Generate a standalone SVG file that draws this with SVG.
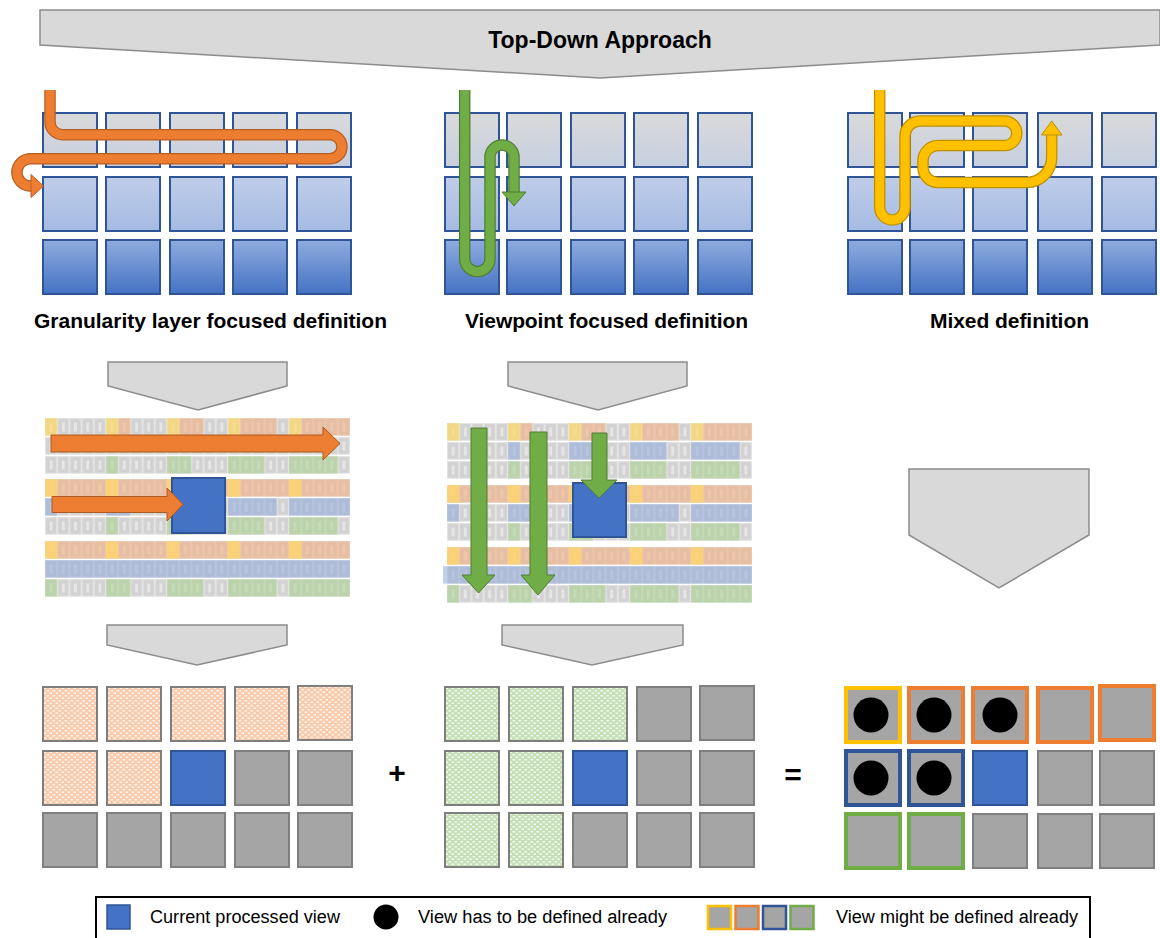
<svg xmlns="http://www.w3.org/2000/svg" width="1160" height="938" viewBox="0 0 1160 938">
  <style>
    .bold { font-family: "Liberation Sans", Arial, sans-serif; font-weight: bold; fill: #000; }
    .reg { font-family: "Liberation Sans", Arial, sans-serif; fill: #000; }
    .chev { fill: #d9d9d9; stroke: #8c8c8c; stroke-width: 1.5; }
    .tg { fill: url(#gridGrad); stroke: #2f5597; stroke-width: 2; }
    .gray { fill: #a5a5a5; stroke: #7f7f7f; stroke-width: 2; }
    .cur { fill: #4472c4; stroke: #2f5597; stroke-width: 2; }
    .org { fill: url(#dotOrange); stroke: #7f7f7f; stroke-width: 2; }
    .grn { fill: url(#dotGreen); stroke: #7f7f7f; stroke-width: 2; }
    .bY { fill: #a5a5a5; stroke: #ffc000; stroke-width: 4; }
    .bO { fill: #a5a5a5; stroke: #ed7d31; stroke-width: 4; }
    .bB { fill: #a5a5a5; stroke: #2f5597; stroke-width: 4; }
    .bG { fill: #a5a5a5; stroke: #70ad47; stroke-width: 4; }
    .ovO { fill: #f4b183; opacity: 0.6; }
    .ovY { fill: #ffd966; opacity: 0.7; }
    .ovB { fill: #8faadc; opacity: 0.55; }
    .ovG { fill: #a9d18e; opacity: 0.55; }
    .lineOut { fill: none; stroke-width: 11.5; }
    .lineIn { fill: none; stroke-width: 9; }
  </style>
  <defs>
    <linearGradient id="gridGrad" gradientUnits="userSpaceOnUse" x1="0" y1="113" x2="0" y2="294">
      <stop offset="0" stop-color="#dadada"/>
      <stop offset="0.305" stop-color="#c6cfe0"/>
      <stop offset="0.355" stop-color="#bfcde8"/>
      <stop offset="0.655" stop-color="#a5bbe4"/>
      <stop offset="0.705" stop-color="#8eabde"/>
      <stop offset="1" stop-color="#4472c4"/>
    </linearGradient>
    <pattern id="dotOrange" width="6" height="5" patternUnits="userSpaceOnUse">
      <rect width="6" height="5" fill="#f8cbad"/>
      <rect x="0.5" y="0.5" width="2.5" height="1.5" fill="#fff" opacity="0.8"/>
      <rect x="3.5" y="3" width="2.5" height="1.5" fill="#fff" opacity="0.8"/>
    </pattern>
    <pattern id="dotGreen" width="6" height="5" patternUnits="userSpaceOnUse">
      <rect width="6" height="5" fill="#c5e0b4"/>
      <rect x="0.5" y="0.5" width="2.5" height="1.5" fill="#fff" opacity="0.8"/>
      <rect x="3.5" y="3" width="2.5" height="1.5" fill="#fff" opacity="0.8"/>
    </pattern>
    <!-- one small view tile of the nested view map -->
    <pattern id="mini" width="12.2" height="19" patternUnits="userSpaceOnUse">
      <rect x="0.6" y="0.6" width="11" height="16.6" fill="#d2d2d2" stroke="#e2e2e2" stroke-width="1"/>
      <rect x="4.6" y="4.5" width="3" height="9" fill="#e6e6e6"/>
    </pattern>
    <rect id="cell" width="54" height="54"/>
  </defs>

  <!-- banner -->
  <g id="banner">
    <polygon class="chev" points="40,10 1160,10 1160,45 600,78 40,45"/>
    <text class="bold" x="600" y="48" font-size="23" text-anchor="middle">Top-Down Approach</text>
  </g>

  <!-- granularity layer focused grid -->
  <g id="grid-granularity">
    <rect class="tg" x="43" y="113" width="54" height="54"/><rect class="tg" x="106" y="113" width="54" height="54"/><rect class="tg" x="170" y="113" width="54" height="54"/><rect class="tg" x="233" y="113" width="54" height="54"/><rect class="tg" x="297" y="113" width="54" height="54"/>
    <rect class="tg" x="43" y="177" width="54" height="54"/><rect class="tg" x="106" y="177" width="54" height="54"/><rect class="tg" x="170" y="177" width="54" height="54"/><rect class="tg" x="233" y="177" width="54" height="54"/><rect class="tg" x="297" y="177" width="54" height="54"/>
    <rect class="tg" x="43" y="240" width="54" height="54"/><rect class="tg" x="106" y="240" width="54" height="54"/><rect class="tg" x="170" y="240" width="54" height="54"/><rect class="tg" x="233" y="240" width="54" height="54"/><rect class="tg" x="297" y="240" width="54" height="54"/>
    <path class="lineOut" stroke="#b85e21" d="M50,90 V122 A12.7,12.7 0 0 0 62.7,134.7 H330 A12,12 0 0 1 330,158.7 H29.4 A13.7,13.7 0 0 0 29.4,186 H32"/>
    <path class="lineIn" stroke="#ed7d31" d="M50,90 V122 A12.7,12.7 0 0 0 62.7,134.7 H330 A12,12 0 0 1 330,158.7 H29.4 A13.7,13.7 0 0 0 29.4,186 H32"/>
    <polygon points="31,174.5 43.5,186 31,197.5" fill="#ed7d31" stroke="#b85e21" stroke-width="1"/>
  </g>

  <!-- viewpoint focused grid -->
  <g id="grid-viewpoint">
    <rect class="tg" x="445" y="113" width="54" height="54"/><rect class="tg" x="507" y="113" width="54" height="54"/><rect class="tg" x="571" y="113" width="54" height="54"/><rect class="tg" x="634" y="113" width="54" height="54"/><rect class="tg" x="698" y="113" width="54" height="54"/>
    <rect class="tg" x="445" y="177" width="54" height="54"/><rect class="tg" x="507" y="177" width="54" height="54"/><rect class="tg" x="571" y="177" width="54" height="54"/><rect class="tg" x="634" y="177" width="54" height="54"/><rect class="tg" x="698" y="177" width="54" height="54"/>
    <rect class="tg" x="445" y="240" width="54" height="54"/><rect class="tg" x="507" y="240" width="54" height="54"/><rect class="tg" x="571" y="240" width="54" height="54"/><rect class="tg" x="634" y="240" width="54" height="54"/><rect class="tg" x="698" y="240" width="54" height="54"/>
    <path class="lineOut" stroke="#507e32" d="M464.7,90 V259 A12.65,12.65 0 0 0 490,259 V157 A12,12 0 0 1 514,157 V193"/>
    <path class="lineIn" stroke="#70ad47" d="M464.7,90 V259 A12.65,12.65 0 0 0 490,259 V157 A12,12 0 0 1 514,157 V193"/>
    <polygon points="502,192 526,192 514,206" fill="#70ad47" stroke="#507e32" stroke-width="1"/>
  </g>

  <!-- mixed grid -->
  <g id="grid-mixed">
    <rect class="tg" x="848" y="113" width="54" height="54"/><rect class="tg" x="910" y="113" width="54" height="54"/><rect class="tg" x="973" y="113" width="54" height="54"/><rect class="tg" x="1038" y="113" width="54" height="54"/><rect class="tg" x="1102" y="113" width="54" height="54"/>
    <rect class="tg" x="848" y="177" width="54" height="54"/><rect class="tg" x="910" y="177" width="54" height="54"/><rect class="tg" x="973" y="177" width="54" height="54"/><rect class="tg" x="1038" y="177" width="54" height="54"/><rect class="tg" x="1102" y="177" width="54" height="54"/>
    <rect class="tg" x="848" y="240" width="54" height="54"/><rect class="tg" x="910" y="240" width="54" height="54"/><rect class="tg" x="973" y="240" width="54" height="54"/><rect class="tg" x="1038" y="240" width="54" height="54"/><rect class="tg" x="1102" y="240" width="54" height="54"/>
    <path class="lineOut" stroke="#bf9000" d="M879.7,90 V207.3 A12.65,12.65 0 0 0 905,207.3 V136 A15,15 0 0 1 920,121 H1004.5 A12.3,12.3 0 0 1 1004.5,145.6 H938 A15,15 0 0 0 923,160.6 V167.5 A15,15 0 0 0 938,182.5 H1026.7 A25,25 0 0 0 1051.7,157.5 V134"/>
    <path class="lineIn" stroke="#ffc000" d="M879.7,90 V207.3 A12.65,12.65 0 0 0 905,207.3 V136 A15,15 0 0 1 920,121 H1004.5 A12.3,12.3 0 0 1 1004.5,145.6 H938 A15,15 0 0 0 923,160.6 V167.5 A15,15 0 0 0 938,182.5 H1026.7 A25,25 0 0 0 1051.7,157.5 V134"/>
    <polygon points="1041.5,135 1062,135 1051.7,121" fill="#ffc000" stroke="#bf9000" stroke-width="1"/>
  </g>

  <!-- captions -->
  <g id="captions">
    <text class="bold" x="210.5" y="328" font-size="21" text-anchor="middle" textLength="353" lengthAdjust="spacing">Granularity layer focused definition</text>
    <text class="bold" x="606.5" y="328" font-size="21" text-anchor="middle" textLength="283" lengthAdjust="spacing">Viewpoint focused definition</text>
    <text class="bold" x="1009.5" y="328" font-size="21" text-anchor="middle" textLength="159" lengthAdjust="spacing">Mixed definition</text>
  </g>

  <!-- block arrows between the stages -->
  <g id="connectors">
    <polygon class="chev" points="108,362 287,362 287,386 198,410 108,386"/>
    <polygon class="chev" points="508,362 687,362 687,386 598,410 508,386"/>
    <polygon class="chev" points="107,625 287,625 287,645 197,665 107,645"/>
    <polygon class="chev" points="502,625 683,625 683,645 592,665 502,645"/>
    <polygon class="chev" points="909,469 1089,469 1089,535 999,588 909,535"/>
  </g>

  <!-- granularity detail: nested view map -->
  <g id="detail-granularity">
    <g transform="translate(45,418)">
      <rect width="305" height="56" fill="url(#mini)"/>
      <rect class="ovO" x="73.2" y="0.2" width="12.2" height="17.4"/>
      <rect class="ovO" x="134.2" y="0.2" width="24.4" height="17.4"/>
      <rect class="ovO" x="195.2" y="0.2" width="36.6" height="17.4"/>
      <rect class="ovO" x="256.2" y="0.2" width="48.8" height="17.4"/>
      <rect class="ovY" x="0" y="0.2" width="12.2" height="17.4"/><rect class="ovY" x="61" y="0.2" width="12.2" height="17.4"/><rect class="ovY" x="122" y="0.2" width="12.2" height="17.4"/><rect class="ovY" x="183" y="0.2" width="12.2" height="17.4"/><rect class="ovY" x="244" y="0.2" width="12.2" height="17.4"/>
      <rect class="ovG" x="61" y="38.2" width="12.2" height="17.4"/>
      <rect class="ovG" x="122" y="38.2" width="24.4" height="17.4"/>
      <rect class="ovG" x="183" y="38.2" width="36.6" height="17.4"/>
      <rect class="ovG" x="244" y="38.2" width="48.8" height="17.4"/>
    </g>
    <g transform="translate(45,479)">
      <rect width="305" height="56" fill="url(#mini)"/>
      <rect class="ovO" x="0" y="0.2" width="305" height="17.4"/>
      <rect class="ovY" x="0" y="0.2" width="12.2" height="17.4"/><rect class="ovY" x="61" y="0.2" width="12.2" height="17.4"/><rect class="ovY" x="122" y="0.2" width="12.2" height="17.4"/><rect class="ovY" x="183" y="0.2" width="12.2" height="17.4"/><rect class="ovY" x="244" y="0.2" width="12.2" height="17.4"/>
      <rect class="ovB" x="0" y="19.2" width="12.2" height="17.4"/>
      <rect class="ovB" x="61" y="19.2" width="24.4" height="17.4"/>
      <rect class="ovB" x="122" y="19.2" width="36.6" height="17.4"/>
      <rect class="ovB" x="183" y="19.2" width="48.8" height="17.4"/>
      <rect class="ovB" x="244" y="19.2" width="61" height="17.4"/>
      <rect class="ovG" x="61" y="38.2" width="12.2" height="17.4"/>
      <rect class="ovG" x="122" y="38.2" width="24.4" height="17.4"/>
      <rect class="ovG" x="183" y="38.2" width="36.6" height="17.4"/>
      <rect class="ovG" x="244" y="38.2" width="48.8" height="17.4"/>
    </g>
    <g transform="translate(45,541)">
      <rect width="305" height="56" fill="url(#mini)"/>
      <rect class="ovO" x="0" y="0.2" width="305" height="17.4"/>
      <rect class="ovY" x="0" y="0.2" width="12.2" height="17.4"/><rect class="ovY" x="61" y="0.2" width="12.2" height="17.4"/><rect class="ovY" x="122" y="0.2" width="12.2" height="17.4"/><rect class="ovY" x="183" y="0.2" width="12.2" height="17.4"/><rect class="ovY" x="244" y="0.2" width="12.2" height="17.4"/>
      <rect class="ovB" x="0" y="19.2" width="305" height="17.4"/>
      <rect class="ovG" x="0" y="38.2" width="12.2" height="17.4"/>
      <rect class="ovG" x="61" y="38.2" width="24.4" height="17.4"/>
      <rect class="ovG" x="122" y="38.2" width="36.6" height="17.4"/>
      <rect class="ovG" x="183" y="38.2" width="48.8" height="17.4"/>
      <rect class="ovG" x="244" y="38.2" width="61" height="17.4"/>
    </g>
    <polygon points="51,435 323,435 323,427 340,443.5 323,460 323,452 51,452" fill="#ed7d31" stroke="#ae5a21" stroke-width="1"/>
    <rect class="cur" x="172" y="478" width="53" height="55"/>
    <polygon points="52,496.5 167,496.5 167,488 183,504.5 167,521 167,512.5 52,512.5" fill="#ed7d31" stroke="#ae5a21" stroke-width="1"/>
  </g>

  <!-- viewpoint detail: nested view map -->
  <g id="detail-viewpoint">
    <g transform="translate(447,423)">
      <rect width="305" height="56" fill="url(#mini)"/>
      <rect class="ovO" x="73.2" y="0.2" width="12.2" height="17.4"/>
      <rect class="ovO" x="134.2" y="0.2" width="24.4" height="17.4"/>
      <rect class="ovO" x="195.2" y="0.2" width="36.6" height="17.4"/>
      <rect class="ovO" x="256.2" y="0.2" width="48.8" height="17.4"/>
      <rect class="ovY" x="0" y="0.2" width="12.2" height="17.4"/><rect class="ovY" x="61" y="0.2" width="12.2" height="17.4"/><rect class="ovY" x="122" y="0.2" width="12.2" height="17.4"/><rect class="ovY" x="183" y="0.2" width="12.2" height="17.4"/><rect class="ovY" x="244" y="0.2" width="12.2" height="17.4"/>
      <rect class="ovB" x="61" y="19.2" width="12.2" height="17.4"/>
      <rect class="ovB" x="122" y="19.2" width="24.4" height="17.4"/>
      <rect class="ovB" x="183" y="19.2" width="36.6" height="17.4"/>
      <rect class="ovB" x="244" y="19.2" width="48.8" height="17.4"/>
      <rect class="ovG" x="61" y="38.2" width="12.2" height="17.4"/>
      <rect class="ovG" x="122" y="38.2" width="24.4" height="17.4"/>
      <rect class="ovG" x="183" y="38.2" width="36.6" height="17.4"/>
      <rect class="ovG" x="244" y="38.2" width="48.8" height="17.4"/>
    </g>
    <g transform="translate(447,485)">
      <rect width="305" height="56" fill="url(#mini)"/>
      <rect class="ovO" x="0" y="0.2" width="305" height="17.4"/>
      <rect class="ovY" x="0" y="0.2" width="12.2" height="17.4"/><rect class="ovY" x="61" y="0.2" width="12.2" height="17.4"/><rect class="ovY" x="122" y="0.2" width="12.2" height="17.4"/><rect class="ovY" x="183" y="0.2" width="12.2" height="17.4"/><rect class="ovY" x="244" y="0.2" width="12.2" height="17.4"/>
      <rect class="ovB" x="0" y="19.2" width="12.2" height="17.4"/>
      <rect class="ovB" x="61" y="19.2" width="24.4" height="17.4"/>
      <rect class="ovB" x="122" y="19.2" width="36.6" height="17.4"/>
      <rect class="ovB" x="183" y="19.2" width="48.8" height="17.4"/>
      <rect class="ovB" x="244" y="19.2" width="61" height="17.4"/>
      <rect class="ovG" x="61" y="38.2" width="12.2" height="17.4"/>
      <rect class="ovG" x="122" y="38.2" width="24.4" height="17.4"/>
      <rect class="ovG" x="183" y="38.2" width="36.6" height="17.4"/>
      <rect class="ovG" x="244" y="38.2" width="48.8" height="17.4"/>
    </g>
    <g transform="translate(447,547)">
      <rect width="305" height="56" fill="url(#mini)"/>
      <rect class="ovO" x="0" y="0.2" width="305" height="17.4"/>
      <rect class="ovY" x="0" y="0.2" width="12.2" height="17.4"/><rect class="ovY" x="61" y="0.2" width="12.2" height="17.4"/><rect class="ovY" x="122" y="0.2" width="12.2" height="17.4"/><rect class="ovY" x="183" y="0.2" width="12.2" height="17.4"/><rect class="ovY" x="244" y="0.2" width="12.2" height="17.4"/>
      <rect class="ovB" x="-4" y="19.2" width="309" height="17.4"/>
      <rect class="ovG" x="0" y="38.2" width="12.2" height="17.4"/>
      <rect class="ovG" x="61" y="38.2" width="24.4" height="17.4"/>
      <rect class="ovG" x="122" y="38.2" width="36.6" height="17.4"/>
      <rect class="ovG" x="183" y="38.2" width="48.8" height="17.4"/>
      <rect class="ovG" x="244" y="38.2" width="61" height="17.4"/>
    </g>
    <polygon points="471,428 487,428 487,575 495,575 478.5,593 462,575 471,575" fill="#70ad47" stroke="#507e32" stroke-width="1"/>
    <polygon points="530,432 547,432 547,575 555,575 538,595 521,575 530,575" fill="#70ad47" stroke="#507e32" stroke-width="1"/>
    <rect class="cur" x="573" y="483" width="53" height="54"/>
    <polygon points="592,433 607,433 607,480 617,480 599,498 581,480 592,480" fill="#70ad47" stroke="#507e32" stroke-width="1"/>
  </g>

  <!-- result of the granularity layer focused definition -->
  <g id="result-granularity">
    <use href="#cell" class="org" x="43" y="687"/><use href="#cell" class="org" x="107" y="687"/><use href="#cell" class="org" x="171" y="687"/><use href="#cell" class="org" x="235" y="687"/><use href="#cell" class="org" x="298" y="686"/>
    <use href="#cell" class="org" x="43" y="751"/><use href="#cell" class="org" x="107" y="751"/><use href="#cell" class="cur" x="171" y="751"/><use href="#cell" class="gray" x="235" y="751"/><use href="#cell" class="gray" x="298" y="751"/>
    <use href="#cell" class="gray" x="43" y="813"/><use href="#cell" class="gray" x="107" y="813"/><use href="#cell" class="gray" x="171" y="813"/><use href="#cell" class="gray" x="235" y="813"/><use href="#cell" class="gray" x="298" y="813"/>
  </g>

  <text class="bold" x="397" y="783" font-size="30" text-anchor="middle">+</text>

  <!-- result of the viewpoint focused definition -->
  <g id="result-viewpoint">
    <use href="#cell" class="grn" x="445" y="687"/><use href="#cell" class="grn" x="509" y="687"/><use href="#cell" class="grn" x="573" y="687"/><use href="#cell" class="gray" x="637" y="687"/><use href="#cell" class="gray" x="700" y="686"/>
    <use href="#cell" class="grn" x="445" y="751"/><use href="#cell" class="grn" x="509" y="751"/><use href="#cell" class="cur" x="573" y="751"/><use href="#cell" class="gray" x="637" y="751"/><use href="#cell" class="gray" x="700" y="751"/>
    <use href="#cell" class="grn" x="445" y="813"/><use href="#cell" class="grn" x="509" y="813"/><use href="#cell" class="gray" x="573" y="813"/><use href="#cell" class="gray" x="637" y="813"/><use href="#cell" class="gray" x="700" y="813"/>
  </g>

  <text class="bold" x="793" y="785" font-size="30" text-anchor="middle">=</text>

  <!-- combined result -->
  <g id="result-mixed">
    <use href="#cell" class="bY" x="846" y="688"/><use href="#cell" class="bO" x="909" y="688"/><use href="#cell" class="bO" x="973" y="688"/><use href="#cell" class="bO" x="1038" y="688"/><use href="#cell" class="bO" x="1100" y="686"/>
    <use href="#cell" class="bB" x="846" y="751"/><use href="#cell" class="bB" x="909" y="751"/><use href="#cell" class="cur" x="973" y="751"/><use href="#cell" class="gray" x="1038" y="751"/><use href="#cell" class="gray" x="1100" y="751"/>
    <use href="#cell" class="bG" x="846" y="814"/><use href="#cell" class="bG" x="909" y="814"/><use href="#cell" class="gray" x="973" y="814"/><use href="#cell" class="gray" x="1038" y="814"/><use href="#cell" class="gray" x="1100" y="814"/>
    <circle cx="871" cy="715" r="17.5" fill="#000"/>
    <circle cx="934" cy="715" r="17.5" fill="#000"/>
    <circle cx="1000" cy="715" r="17.5" fill="#000"/>
    <circle cx="871" cy="778" r="17.5" fill="#000"/>
    <circle cx="934" cy="778" r="17.5" fill="#000"/>
  </g>

  <!-- legend -->
  <g id="legend">
    <rect x="96" y="897" width="994" height="50" fill="#fff" stroke="#000" stroke-width="2"/>
    <rect x="107" y="905" width="23" height="24" fill="#4472c4" stroke="#2f5597" stroke-width="1.5"/>
    <text class="reg" x="150" y="923" font-size="18" textLength="190" lengthAdjust="spacingAndGlyphs">Current processed view</text>
    <circle cx="386" cy="917" r="12.5" fill="#000"/>
    <text class="reg" x="418" y="923" font-size="18" textLength="249" lengthAdjust="spacingAndGlyphs">View has to be defined already</text>
    <rect x="708" y="906" width="23" height="23" fill="#a5a5a5" stroke="#ffc000" stroke-width="2.5"/>
    <rect x="735.5" y="906" width="23" height="23" fill="#a5a5a5" stroke="#ed7d31" stroke-width="2.5"/>
    <rect x="763" y="906" width="23" height="23" fill="#a5a5a5" stroke="#2f5597" stroke-width="2.5"/>
    <rect x="790.5" y="906" width="23" height="23" fill="#a5a5a5" stroke="#70ad47" stroke-width="2.5"/>
    <text class="reg" x="836" y="923" font-size="18" textLength="242" lengthAdjust="spacingAndGlyphs">View might be defined already</text>
  </g>
</svg>
